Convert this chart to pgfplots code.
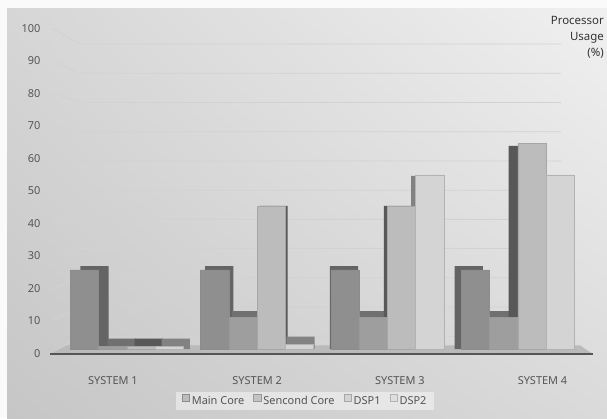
\documentclass[border=0pt]{standalone}
\usepackage{pgfplots}
\usepackage{pgfplotstable}
\pgfplotsset{compat=1.18}
\usetikzlibrary{shadings}
\usepackage{fontspec}
\setmainfont{Noto Sans}
\definecolor{bgUL}{RGB}{214,214,214}
\definecolor{bgUR}{RGB}{240,240,240}
\definecolor{bgLL}{RGB}{198,198,198}
\definecolor{bgLR}{RGB}{218,218,218}
\definecolor{cMain}{RGB}{143,143,143}
\definecolor{cSecond}{RGB}{158,158,158}
\definecolor{cDSPone}{RGB}{188,188,188}
\definecolor{cDSPtwo}{RGB}{212,212,212}
\definecolor{dMain}{RGB}{100,100,100}
\definecolor{dSecond}{RGB}{112,112,112}
\definecolor{dDSPone}{RGB}{88,88,88}
\definecolor{dDSPtwo}{RGB}{130,130,130}
\definecolor{labelgray}{RGB}{85,85,85}
\definecolor{floorgray}{RGB}{186,186,186}
\definecolor{gridgray}{RGB}{210,210,210}
\pgfplotstableread{
x main second dspone dsptwo
0 25 0.8 0.8 0.8
1 25 10 45 1.5
2 25 10 45 55
3 25 10 65 55
}\usage
\pgfplotsset{mybar/.style={ybar, bar width=0.217, bar shift=0pt}}
\begin{document}
\begin{tikzpicture}[x=1bp,y=1bp]
\fill[white!96!gray] (0,0) rectangle (607,418);
\shade[upper left=bgUL, upper right=bgUR, lower left=bgLL, lower right=bgLR] (7,0) rectangle (607,409);
\begin{axis}[
  at={(50bp,64bp)}, anchor=south west,
  scale only axis, width=539.4bp, height=328.3bp,
  xmin=-0.59, xmax=3.55, ymin=-1.5, ymax=102,
  xtick={-0.107,1.0,2.095,3.19},
  xticklabels={SYSTEM 1,SYSTEM 2,SYSTEM 3,SYSTEM 4},
  ytick={-1.26,8.99,19.24,29.49,39.74,49.99,60.24,70.49,80.74,90.99,101.24},
  yticklabels={0,10,20,30,40,50,60,70,80,90,100},
  axis line style={draw=none},
  major tick length=0pt,
  tick label style={font=\fontsize{11}{13}\selectfont, text=labelgray},
  xticklabel style={yshift=-19bp},
  yticklabel style={xshift=-6bp},
  /pgf/number format/assume math mode=true,
  clip=false,
  legend image code/.code={\draw[#1, line width=0.5bp] (0bp,-0.5bp) rectangle (7.5bp,7bp);},
  legend style={at={(0.473,-0.143)}, anchor=center, legend columns=4,
    draw=none, fill=white, fill opacity=0.45, text opacity=1,
    font=\fontsize{11}{13}\selectfont, text=labelgray,
    inner xsep=6bp, inner ysep=2bp,
    /tikz/every even column/.append style={column sep=7bp}},
]
\pgfplotsinvokeforeach{0,10,...,100}{
  \draw[gridgray, line width=0.8bp] (axis cs:-0.576,{1.025*#1-1.26}) -- (axis cs:-0.361,{4.1+0.921*#1}) -- (axis cs:3.33,{4.1+0.921*#1});
}
\fill[floorgray] (axis cs:-0.59,-1.5) -- (axis cs:3.576,-1.5) -- (axis cs:3.477,1.26) -- (axis cs:-0.46,1.26) -- cycle;
\draw[line width=1.6bp, color=labelgray] (axis cs:-0.59,-1.5) -- (axis cs:3.576,-1.5);
% depth (side/top faces)
\addplot[mybar, fill=dMain, draw=none, forget plot] table[x expr={0.957*(\thisrow{x}-0.3255)+0.0637}, y expr={\thisrow{main}+0.054*(48-\thisrow{main})}] {\usage};
\addplot[mybar, fill=dSecond, draw=none, forget plot] table[x expr={0.957*(\thisrow{x}-0.1085)+0.0637}, y expr={\thisrow{second}+0.054*(48-\thisrow{second})}] {\usage};
\addplot[mybar, fill=dDSPone, draw=none, forget plot] table[x expr={0.957*(\thisrow{x}+0.1085)+0.0637}, y expr={\thisrow{dspone}+0.054*(48-\thisrow{dspone})}] {\usage};
\addplot[mybar, fill=dDSPtwo, draw=none, forget plot] table[x expr={0.957*(\thisrow{x}+0.3255)+0.0637}, y expr={\thisrow{dsptwo}+0.054*(48-\thisrow{dsptwo})}] {\usage};
% front faces
\addplot[mybar, fill=cMain, draw=black!45, line width=0.5bp] table[x expr={\thisrow{x}-0.3255}, y=main] {\usage};
\addplot[mybar, fill=cSecond, draw=black!40, line width=0.5bp] table[x expr={\thisrow{x}-0.1085}, y=second] {\usage};
\addplot[mybar, fill=cDSPone, draw=black!35, line width=0.5bp] table[x expr={\thisrow{x}+0.1085}, y=dspone] {\usage};
\addplot[mybar, fill=cDSPtwo, draw=black!30, line width=0.5bp] table[x expr={\thisrow{x}+0.3255}, y=dsptwo] {\usage};
\legend{Main Core, Sencond Core, DSP1, DSP2}
\end{axis}
\node[anchor=north east, align=right, inner sep=0pt, text=black!80,
  font=\fontsize{11.5}{16}\selectfont] at (604,402) {Processor\\Usage\\(\%)};
\pgfresetboundingbox
\useasboundingbox (0,0) rectangle (607,418);
\end{tikzpicture}
\end{document}
